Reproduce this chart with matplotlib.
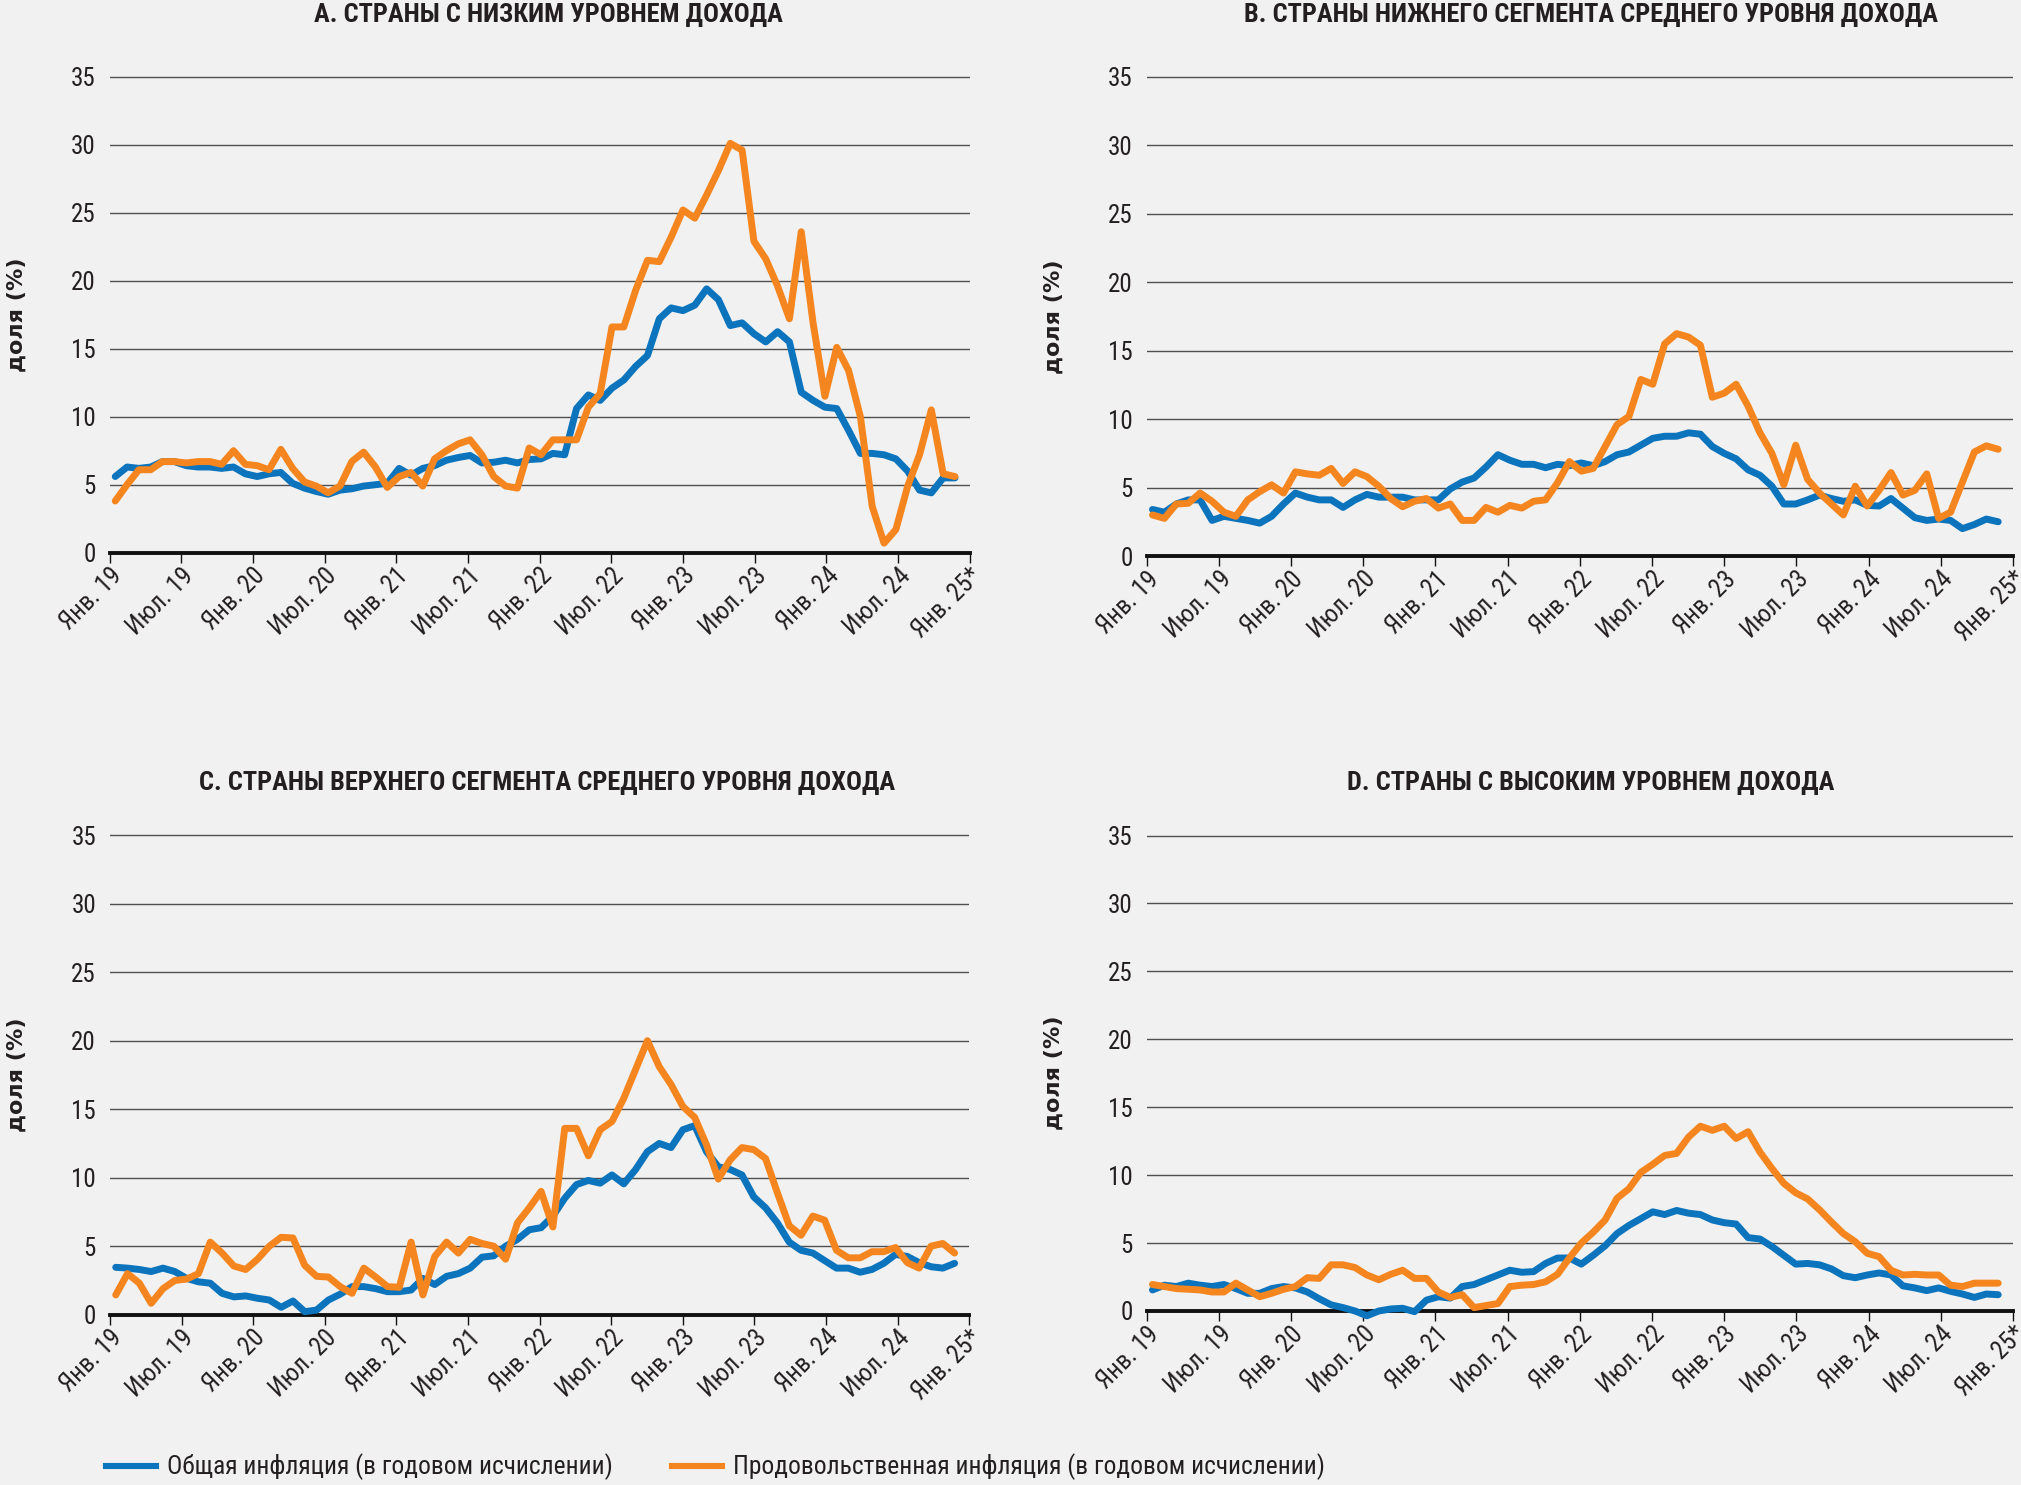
import matplotlib
matplotlib.use('Agg')
import matplotlib.pyplot as plt
from matplotlib import font_manager
from matplotlib.lines import Line2D
import numpy as np

# monthly values, Jan 2019 .. Dec 2024 (72 points), percent
months = np.arange(72)
x_labels = ['Янв. 19', 'Июл. 19', 'Янв. 20', 'Июл. 20', 'Янв. 21', 'Июл. 21',
            'Янв. 22', 'Июл. 22', 'Янв. 23', 'Июл. 23', 'Янв. 24', 'Июл. 24',
            'Янв. 25*']

a_total = [5.6, 6.3, 6.2, 6.3, 6.7, 6.7, 6.4, 6.3, 6.3, 6.2,
           6.3, 5.8, 5.6, 5.8, 5.9, 5.1, 4.75, 4.5, 4.3, 4.6,
           4.7, 4.9, 5.0, 5.1, 6.2, 5.7, 6.2, 6.4, 6.8, 7.0,
           7.15, 6.6, 6.65, 6.8, 6.6, 6.85, 6.9, 7.3, 7.2, 10.6,
           11.6, 11.2, 12.1, 12.7, 13.7, 14.5, 17.2, 18.0, 17.8, 18.2,
           19.4, 18.6, 16.7, 16.9, 16.1, 15.5, 16.25, 15.5, 11.8, 11.2,
           10.7, 10.6, 9.0, 7.3, 7.3, 7.2, 6.9, 6.0, 4.6, 4.4,
           5.5, 5.5]
a_food = [3.8, 5.0, 6.1, 6.1, 6.7, 6.7, 6.6, 6.7, 6.7, 6.5,
          7.5, 6.5, 6.4, 6.1, 7.6, 6.2, 5.2, 4.9, 4.4, 4.9,
          6.7, 7.4, 6.3, 4.8, 5.6, 5.9, 4.9, 6.9, 7.5, 8.0,
          8.3, 7.2, 5.6, 4.9, 4.75, 7.7, 7.2, 8.3, 8.3, 8.3,
          10.7, 11.7, 16.6, 16.6, 19.3, 21.5, 21.4, 23.2, 25.2, 24.6,
          26.3, 28.1, 30.1, 29.6, 22.9, 21.6, 19.6, 17.2, 23.6, 16.9,
          11.5, 15.1, 13.4, 10.0, 3.4, 0.7, 1.7, 4.9, 7.2, 10.5,
          5.8, 5.6]

b_total = [3.4, 3.2, 3.8, 4.1, 4.1, 2.6, 2.9, 2.75, 2.6, 2.4,
           2.9, 3.8, 4.6, 4.3, 4.1, 4.1, 3.55, 4.1, 4.5, 4.3,
           4.3, 4.3, 4.1, 4.1, 4.1, 4.9, 5.4, 5.7, 6.5, 7.4,
           7.0, 6.7, 6.7, 6.45, 6.7, 6.6, 6.8, 6.6, 6.9, 7.4,
           7.6, 8.1, 8.6, 8.75, 8.75, 9.0, 8.9, 8.0, 7.5, 7.1,
           6.3, 5.9, 5.1, 3.8, 3.8, 4.1, 4.45, 4.2, 4.0, 4.1,
           3.7, 3.65, 4.2, 3.5, 2.8, 2.6, 2.7, 2.6, 2.0, 2.3,
           2.7, 2.5]
b_food = [3.0, 2.75, 3.8, 3.85, 4.6, 4.0, 3.2, 2.9, 4.1, 4.7,
          5.2, 4.6, 6.15, 6.0, 5.9, 6.4, 5.3, 6.15, 5.8, 5.1,
          4.2, 3.6, 4.0, 4.2, 3.5, 3.8, 2.6, 2.6, 3.55, 3.2,
          3.7, 3.5, 4.0, 4.1, 5.35, 6.9, 6.2, 6.4, 8.0, 9.6,
          10.2, 12.9, 12.55, 15.5, 16.25, 16.0, 15.4, 11.6, 11.9, 12.55,
          10.95, 9.0, 7.5, 5.2, 8.1, 5.6, 4.6, 3.8, 3.0, 5.1,
          3.65, 4.8, 6.1, 4.45, 4.8, 6.0, 2.75, 3.2, 5.4, 7.6,
          8.05, 7.8]

c_total = [3.46, 3.4, 3.3, 3.15, 3.4, 3.15, 2.65, 2.4, 2.3, 1.56,
           1.3, 1.37, 1.2, 1.07, 0.54, 1.0, 0.22, 0.34, 1.07, 1.5,
           2.05, 2.05, 1.9, 1.68, 1.68, 1.8, 2.65, 2.2, 2.8, 3.0,
           3.4, 4.2, 4.3, 5.0, 5.5, 6.2, 6.35, 7.2, 8.5, 9.5,
           9.8, 9.6, 10.2, 9.55, 10.6, 11.9, 12.5, 12.2, 13.5, 13.8,
           11.9, 10.8, 10.6, 10.2, 8.6, 7.8, 6.7, 5.3, 4.7, 4.5,
           3.95, 3.4, 3.4, 3.1, 3.3, 3.75, 4.4, 4.25, 3.8, 3.5,
           3.4, 3.75]
c_food = [1.44, 3.0, 2.3, 0.83, 1.9, 2.5, 2.6, 3.0, 5.3, 4.5,
          3.55, 3.3, 4.05, 5.0, 5.65, 5.6, 3.6, 2.8, 2.75, 2.05,
          1.56, 3.4, 2.75, 2.05, 2.0, 5.3, 1.44, 4.25, 5.3, 4.5,
          5.5, 5.2, 5.0, 4.05, 6.7, 7.8, 9.0, 6.4, 13.6, 13.6,
          11.6, 13.5, 14.1, 15.8, 17.9, 20.0, 18.1, 16.8, 15.2, 14.4,
          12.4, 9.9, 11.3, 12.2, 12.05, 11.4, 8.9, 6.5, 5.8, 7.2,
          6.9, 4.7, 4.15, 4.15, 4.6, 4.6, 4.9, 3.8, 3.4, 5.0,
          5.2, 4.5]

d_total = [1.55, 1.9, 1.8, 2.05, 1.9, 1.8, 1.95, 1.65, 1.3, 1.3,
           1.65, 1.8, 1.7, 1.4, 0.9, 0.45, 0.25, 0.0, -0.35, 0.0,
           0.15, 0.2, -0.05, 0.8, 1.05, 0.95, 1.8, 1.95, 2.3, 2.65,
           3.0, 2.85, 2.9, 3.5, 3.9, 3.9, 3.45, 4.1, 4.8, 5.7,
           6.3, 6.8, 7.3, 7.1, 7.4, 7.2, 7.1, 6.7, 6.5, 6.4,
           5.4, 5.3, 4.75, 4.1, 3.45, 3.5, 3.4, 3.1, 2.6, 2.45,
           2.65, 2.8, 2.65, 1.85, 1.7, 1.5, 1.7, 1.45, 1.25, 1.0,
           1.25, 1.2]
d_food = [1.95, 1.8, 1.65, 1.6, 1.55, 1.4, 1.4, 2.05, 1.55, 1.05,
          1.3, 1.6, 1.8, 2.45, 2.4, 3.4, 3.4, 3.2, 2.65, 2.3,
          2.7, 3.0, 2.4, 2.4, 1.4, 1.0, 1.2, 0.25, 0.4, 0.55,
          1.8, 1.9, 1.95, 2.15, 2.7, 3.9, 5.0, 5.8, 6.7, 8.3,
          9.0, 10.2, 10.8, 11.45, 11.6, 12.8, 13.6, 13.3, 13.6, 12.7,
          13.2, 11.7, 10.5, 9.4, 8.7, 8.25, 7.45, 6.55, 5.7, 5.1,
          4.25, 4.0, 3.0, 2.65, 2.7, 2.65, 2.65, 1.9, 1.8, 2.05,
          2.05, 2.05]

titles = ['A. СТРАНЫ С НИЗКИМ УРОВНЕМ ДОХОДА',
          'B. СТРАНЫ НИЖНЕГО СЕГМЕНТА СРЕДНЕГО УРОВНЯ ДОХОДА',
          'C. СТРАНЫ ВЕРХНЕГО СЕГМЕНТА СРЕДНЕГО УРОВНЯ ДОХОДА',
          'D. СТРАНЫ С ВЫСОКИМ УРОВНЕМ ДОХОДА']
legend_labels = ['Общая инфляция (в годовом исчислении)',
                 'Продовольственная инфляция (в годовом исчислении)']
y_label = 'доля (%)'

BLUE = '#0b74bd'
ORANGE = '#f5861f'
INK = '#231f20'
BG = '#f1f1f1'

# fonts: look for a narrow family, fall back to a regular one
names = set(f.name for f in font_manager.fontManager.ttflist)
narrow = None
for cand in ['Roboto Condensed', 'Liberation Sans Narrow', 'Open Sans Condensed',
             'DejaVu Sans Condensed']:
    if cand in names:
        narrow = cand
        break
shrink = 1.0
if narrow is None:
    narrow = 'Liberation Sans' if 'Liberation Sans' in names else 'DejaVu Sans'
    shrink = 0.82

W, H = 2021, 1485
YMIN, YMAX = -1.0, 35.5

# panel geometry in pixels: x at Jan 19, x at Jan 25, y of 35, y of 0
panels = [
    (109.5, 969.7, 76.7, 552.7, a_total, a_food, 548, 22),
    (1146.7, 2013, 77.0, 556.0, b_total, b_food, 1591, 22),
    (110.0, 969.3, 835.2, 1314.7, c_total, c_food, 547, 790),
    (1146.7, 2013, 835.5, 1311.0, d_total, d_food, 1591, 790),
]

# points sit slightly inside the Jan 19 .. Jan 25 span
xpos = 0.48 + 0.99 * months

fig = plt.figure(figsize=(W / 100, H / 100), dpi=100, facecolor=BG)

for n, (x0, x1, y35, y0, tot, food, tcx, tby) in enumerate(panels):
    s = (y0 - y35) / 35.0
    top = y35 - (YMAX - 35) * s
    bot = y0 + (0 - YMIN) * s
    ax = fig.add_axes([x0 / W, 1 - bot / H, (x1 - x0) / W, (bot - top) / H])
    ax.set_facecolor(BG)
    ax.set_xlim(0, 72)
    ax.set_ylim(YMIN, YMAX)

    ax.plot(xpos, tot, color=BLUE, lw=5.0, solid_joinstyle='round',
            solid_capstyle='round', zorder=3)
    ax.plot(xpos, food, color=ORANGE, lw=5.0, solid_joinstyle='round',
            solid_capstyle='round', zorder=4)

    for side in ['top', 'right', 'left']:
        ax.spines[side].set_visible(False)
    ax.spines['bottom'].set_position(('data', 0))
    ax.spines['bottom'].set_linewidth(2.8)
    ax.spines['bottom'].set_color('#111111')
    ax.spines['bottom'].set_zorder(2)

    ax.set_yticks(np.arange(0, 36, 5))
    ax.set_yticklabels([str(v) for v in range(0, 36, 5)])
    ax.yaxis.grid(True, color='#4f4f4f', lw=1.0)
    ax.set_axisbelow(True)
    ax.tick_params(axis='y', length=0, pad=10, labelsize=18 * shrink,
                   labelcolor=INK)
    for t in ax.get_yticklabels():
        t.set_family(narrow)

    ax.set_xticks(np.arange(0, 73, 6))
    ax.set_xticklabels(x_labels, rotation=45, ha='right', va='top',
                       rotation_mode='anchor')
    ax.tick_params(axis='x', direction='out', length=7, width=1.0,
                   color='#111111', pad=1, labelsize=18 * shrink,
                   labelcolor=INK)
    for t in ax.get_xticklabels():
        t.set_family(narrow)

    fig.text(tcx / W, 1 - tby / H, titles[n], ha='center', va='baseline',
             family=narrow, weight='bold', size=19 * shrink, color=INK)
    fig.text((x0 - 93) / W, 1 - (y35 + y0) / 2 / H, y_label, rotation=90,
             ha='center', va='center', family='DejaVu Sans', weight='bold',
             size=16, color=INK)

handles = [Line2D([], [], color=BLUE, lw=4.4),
           Line2D([], [], color=ORANGE, lw=4.4)]
leg = fig.legend(handles, legend_labels, loc='center left',
                 bbox_to_anchor=(106 / W, 1 - 1467 / H), ncol=2, frameon=False,
                 borderpad=0, borderaxespad=0, handlelength=1.95,
                 handletextpad=0.45, columnspacing=2.3,
                 prop={'family': narrow, 'size': 18.4 * shrink})
for t in leg.get_texts():
    t.set_color(INK)

fig.savefig('out.png', dpi=100, facecolor=BG)
